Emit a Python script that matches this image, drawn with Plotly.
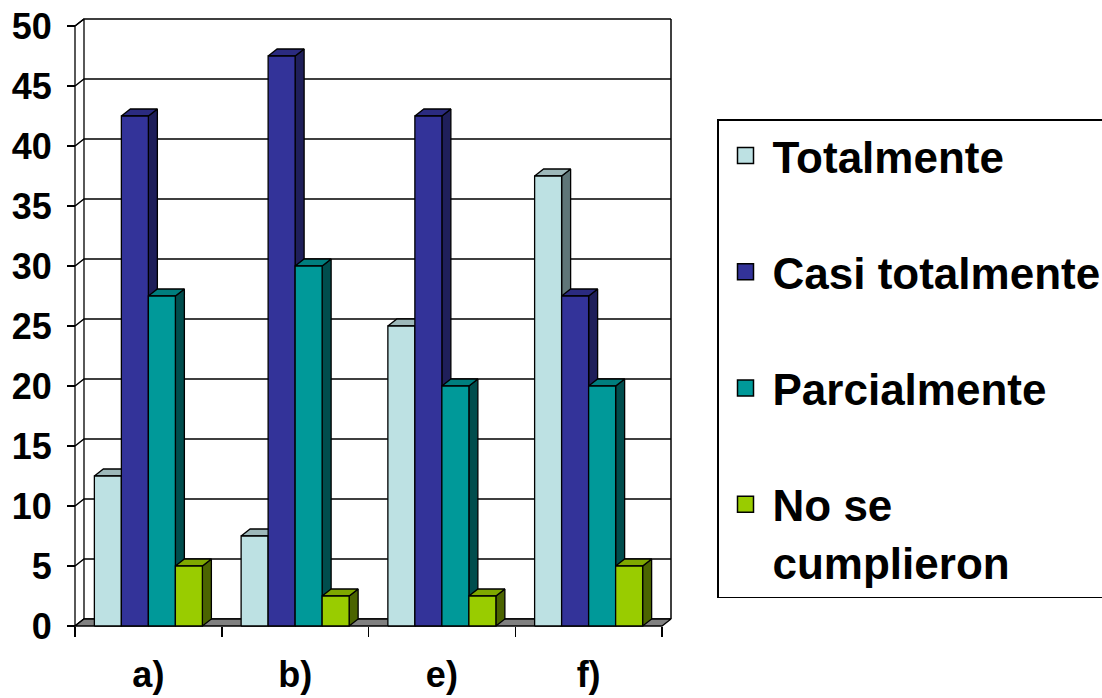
import plotly.graph_objects as go

# ---------------- data ----------------
categories = ["a)", "b)", "e)", "f)"]
series_names = ["Totalmente", "Casi totalmente", "Parcialmente", "No se<br>cumplieron"]
totalmente = [12.5, 7.5, 25, 37.5]
casi_totalmente = [42.5, 47.5, 42.5, 27.5]
parcialmente = [27.5, 30, 20, 20]
no_se_cumplieron = [5, 2.5, 2.5, 5]
y_ticks = [0, 5, 10, 15, 20, 25, 30, 35, 40, 45, 50]

series_values = [totalmente, casi_totalmente, parcialmente, no_se_cumplieron]

# ---------------- style ----------------
front_colors = ["#BDE1E3", "#333399", "#009999", "#99CC00"]
top_colors = ["#9DB8BA", "#2B2B80", "#007E7E", "#7FA800"]
side_colors = ["#5F7678", "#1F1F5A", "#004D4D", "#4B6400"]
FONT = "Liberation Sans, Arial, sans-serif"

W, H = 1102, 698
PX_PER_CAT = 146.75      # horizontal px per category
PX_PER_UNIT = 12.0       # vertical px per value unit
DEPTH_X_PX, DEPTH_Y_PX = 9.0, 7.0
PAD = 3.0
FRONT_LEFT_PX = 75.0
FRONT_ZERO_PX = 626.0
BARGAP = 0.264
EDGE = dict(color="black", width=1.3)

dxu = DEPTH_X_PX / PX_PER_CAT
dyu = DEPTH_Y_PX / PX_PER_UNIT
n_cat = len(categories)
n_ser = len(series_values)
ymax = max(y_ticks)

x_lo, x_hi = -0.5, n_cat - 0.5
xr = [x_lo - PAD / PX_PER_CAT, x_hi + dxu + PAD / PX_PER_CAT]
yr = [-PAD / PX_PER_UNIT, ymax + dyu + PAD / PX_PER_UNIT]

plot_w = (xr[1] - xr[0]) * PX_PER_CAT
plot_h = (yr[1] - yr[0]) * PX_PER_UNIT
m_l = FRONT_LEFT_PX - PAD
m_t = FRONT_ZERO_PX - ymax * PX_PER_UNIT - DEPTH_Y_PX - PAD
m_r = W - m_l - plot_w
m_b = H - m_t - plot_h

fig = go.Figure()


def poly(xs, ys, fill, line=EDGE):
    fig.add_trace(go.Scatter(
        x=xs + [xs[0]], y=ys + [ys[0]], mode="lines", fill="toself",
        fillcolor=fill, line=line, hoverinfo="skip", showlegend=False))


# left wall
poly([x_lo, x_lo + dxu, x_lo + dxu, x_lo],
     [0, dyu, ymax + dyu, ymax], "white")

# gridlines on left wall and back wall
gx, gy = [], []
for v in y_ticks:
    gx += [x_lo, x_lo + dxu, x_hi + dxu, None]
    gy += [v, v + dyu, v + dyu, None]
# back wall right edge
gx += [x_hi + dxu, x_hi + dxu, None]
gy += [dyu, ymax + dyu, None]
fig.add_trace(go.Scatter(x=gx, y=gy, mode="lines",
                         line=dict(color="black", width=1.5),
                         hoverinfo="skip", showlegend=False))

# floor
poly([x_lo, x_hi, x_hi + dxu, x_lo + dxu], [0, 0, dyu, dyu], "#808080")

# bars (painter's order left to right)
group_w = 1 - BARGAP
bar_w = group_w / n_ser
for i in range(n_cat):
    for s in range(n_ser):
        v = series_values[s][i]
        x0 = i - group_w / 2 + s * bar_w
        x1 = x0 + bar_w
        # side face
        poly([x1, x1 + dxu, x1 + dxu, x1], [0, dyu, v + dyu, v], side_colors[s])
        # top face
        poly([x0, x1, x1 + dxu, x0 + dxu], [v, v, v + dyu, v + dyu], top_colors[s])
        # front face
        poly([x0, x1, x1, x0], [0, 0, v, v], front_colors[s])

# legend entries
for s in range(n_ser):
    fig.add_trace(go.Scatter(
        x=[None], y=[None], mode="markers", name=series_names[s],
        legendgroup="g%d" % s,
        marker=dict(symbol="square", size=16, color=front_colors[s],
                    line=dict(color="black", width=1.5)),
        showlegend=True))

fig.update_layout(
    template="none",
    width=W, height=H,
    margin=dict(l=m_l, r=m_r, t=m_t, b=m_b, pad=0, autoexpand=False),
    paper_bgcolor="white", plot_bgcolor="white",
    font=dict(family=FONT, color="black", size=36, weight="bold"),
    showlegend=True,
    legend=dict(
        x=(717 - m_l) / plot_w, xanchor="left",
        y=(m_t + plot_h - 119) / plot_h, yanchor="top",
        bordercolor="black", borderwidth=1.5, bgcolor="white",
        font=dict(family=FONT, size=44, color="black", weight="bold"),
        traceorder="grouped", tracegroupgap=56, valign="top",
        itemsizing="trace", itemwidth=44),
    xaxis=dict(
        range=xr, showgrid=False, zeroline=False, showline=False,
        automargin=False,
        tickmode="array", tickvals=list(range(n_cat)), ticktext=categories,
        ticks="", ticklabelstandoff=24,
        tickfont=dict(family=FONT, size=36, weight="bold"),
        anchor="free", position=PAD / plot_h,
        minor=dict(tickmode="array",
                   tickvals=[x_lo + k for k in range(n_cat + 1)],
                   ticks="outside", ticklen=10, tickwidth=1.5,
                   tickcolor="black", showgrid=False),
    ),
    yaxis=dict(
        range=yr, showgrid=False, zeroline=False, showline=False,
        automargin=False,
        tickmode="array", tickvals=y_ticks,
        ticks="outside", ticklen=8, tickwidth=1.5, tickcolor="black",
        ticklabelstandoff=8,
        tickfont=dict(family=FONT, size=36, weight="bold"),
        anchor="free", position=PAD / plot_w,
    ),
)

fig.write_html(
    "out.html",
    config={"displayModeBar": False, "staticPlot": True},
    post_script="document.body.style.margin='0px';document.body.style.overflow='hidden';",
)
